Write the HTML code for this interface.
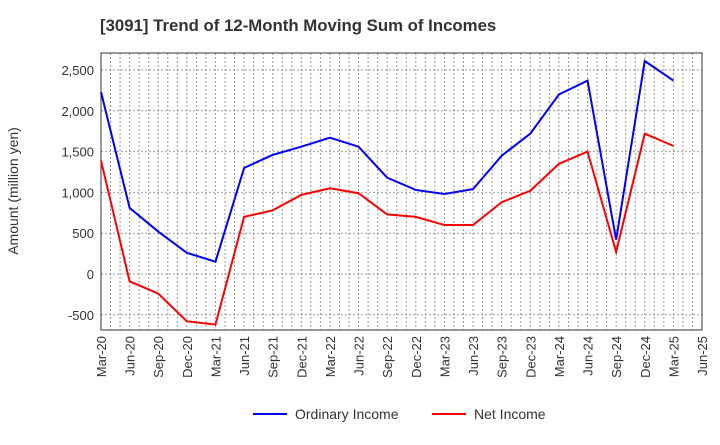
<!DOCTYPE html>
<html><head><meta charset="utf-8"><style>
body{margin:0;background:#fff;font-family:"Liberation Sans",sans-serif}
</style></head><body>
<svg id="c" width="720" height="440" xmlns="http://www.w3.org/2000/svg">
<text x="100" y="31" font-size="16.8" font-weight="bold" fill="#333">[3091]  Trend of 12-Month Moving Sum of Incomes</text>
<text transform="translate(18,191) rotate(-90)" text-anchor="middle" font-size="14" fill="#333">Amount (million yen)</text>
<g id="grid"></g><g id="axes"></g><g id="series"></g>
<g>
<line x1="253" y1="414" x2="287" y2="414" stroke="#0000ff" stroke-width="2"/>
<text x="295" y="419" font-size="14" fill="#333">Ordinary Income</text>
<line x1="432" y1="414" x2="466" y2="414" stroke="#ff0000" stroke-width="2"/>
<text x="474" y="419" font-size="14" fill="#333">Net Income</text>
</g>
</svg>
<script>
const categories=["Mar-20","Jun-20","Sep-20","Dec-20","Mar-21","Jun-21","Sep-21","Dec-21","Mar-22","Jun-22","Sep-22","Dec-22","Mar-23","Jun-23","Sep-23","Dec-23","Mar-24","Jun-24","Sep-24","Dec-24","Mar-25","Jun-25"];
const ordinaryIncome=[2230,810,520,260,150,1300,1460,1560,1670,1560,1180,1030,980,1040,1450,1720,2200,2370,420,2610,2370];
const netIncome=[1390,-90,-240,-580,-620,700,780,970,1050,990,730,700,600,600,880,1020,1350,1500,270,1720,1570];
const yTicks=[-500,0,500,1000,1500,2000,2500];
const yTickLabels=["-500","0","500","1,000","1,500","2,000","2,500"];
const L=101,R=702,T=53,B=330;
const ns="http://www.w3.org/2000/svg";
const x=i=>L+i*(R-L)/(categories.length-1);
const y=v=>274-v*(204/2500);
function mk(t,a,p){const e=document.createElementNS(ns,t);for(const k in a)e.setAttribute(k,a[k]);p.appendChild(e);return e;}
const grid=document.getElementById('grid'),axes=document.getElementById('axes'),ser=document.getElementById('series');
for(let m=0;m<=63;m++){const xx=L+m*(R-L)/63;
 const g=mk('line',{x1:xx,x2:xx,y1:T,y2:B,stroke:'#999','stroke-dasharray':'2,2','stroke-width':1},grid);
 
 }
yTicks.forEach((v,i)=>{const g=mk('line',{x1:L,x2:R,y1:y(v),y2:y(v),stroke:'#999','stroke-dasharray':'2,2'},grid);
 
 
 const t=mk('text',{x:L-7,y:y(v)+5,'text-anchor':'end','font-size':13,fill:'#333'},axes);t.textContent=yTickLabels[i];
 
 });
categories.forEach((c,i)=>{const t=mk('text',{transform:`translate(${x(i)+5},${B+6}) rotate(-90)`,'text-anchor':'end','font-size':13,fill:'#333'},axes);t.textContent=c;
 
 });
const fr=mk('rect',{x:L,y:T,width:R-L,height:B-T,fill:'none',stroke:'#333'},axes);


function line(d,col,name){const p=mk('polyline',{points:d.map((v,i)=>x(i)+','+y(v)).join(' '),fill:'none',stroke:col,'stroke-width':2},ser);
 
 }
line(ordinaryIncome,'#0000ff','ordinary-income-line');
line(netIncome,'#ff0000','net-income-line');
</script>
</body></html>
